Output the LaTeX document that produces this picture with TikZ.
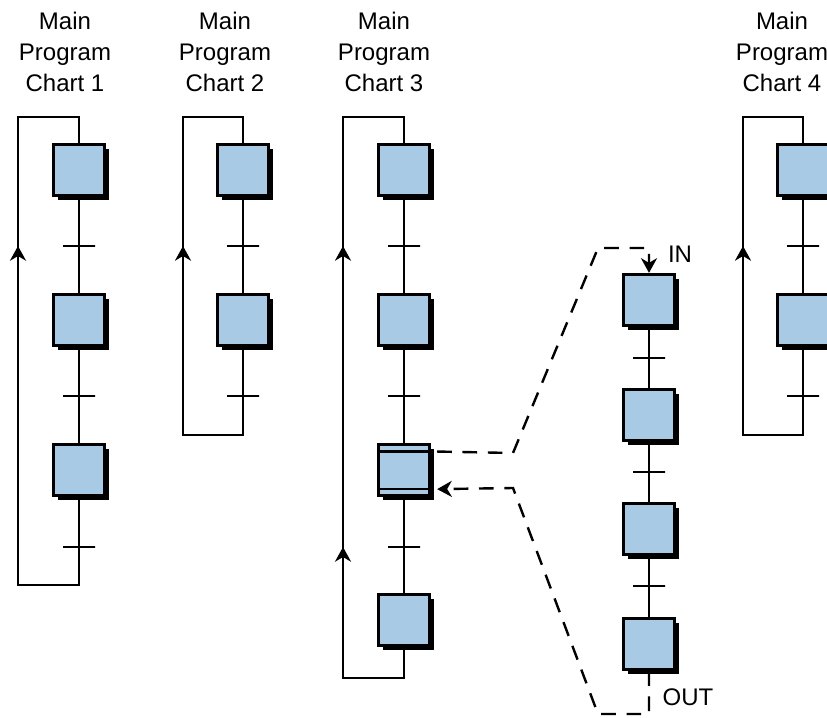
\documentclass[tikz,border=0pt]{standalone}
\usepackage{fontspec}
\setmainfont{Liberation Sans}
\usetikzlibrary{arrows.meta,shadows}
\definecolor{stepblue}{RGB}{168,202,228}
\tikzset{
  stepbox/.style={draw,line width=2.2pt,fill=stepblue,minimum size=38.5pt,inner sep=0pt,
    drop shadow={shadow xshift=3.5pt,shadow yshift=-3.5pt,fill=black,opacity=1}},
  trans/.style={draw,line width=1.8pt,minimum width=24pt,minimum height=0pt,inner sep=0pt},
  title/.style={align=center,font=\fontsize{18}{23}\selectfont},
  uparrow/.style={-{Stealth[length=11pt,width=12pt,inset=3.5pt]}},
  dashline/.style={line width=1.8pt,dash pattern=on 11pt off 8pt}
}
\begin{document}
\begin{tikzpicture}[x=0.75pt,y=-0.75pt,line width=1.9pt,line join=miter]
	\clip (0,0) rectangle (827,717);
	
	% titles
	\node[title] (h1) at (65,52) {Main\\Program\\Chart 1};
	\node[title] (h2) at (225,52) {Main\\Program\\Chart 2};
	\node[title] (h3) at (384,52) {Main\\Program\\Chart 3};
	\node[title] (h4) at (782,52) {Main\\Program\\Chart 4};
	
	% chart 1
	\foreach \i/\y in {1/170,2/320,3/470} \node[stepbox] (c1s\i) at (79,\y) {};
	\foreach \i/\y in {1/246,2/396,3/547} \node[trans] (c1t\i) at (79,\y) {};
	\coordinate (c1b) at (79,585);
	\coordinate (c1l) at (18,117);
	\draw (c1s1) -- (c1t1) -- (c1s2) -- (c1t2) -- (c1s3) -- (c1t3) -- (c1b) -| (c1l) -| (c1s1);
	\draw[uparrow] (c1l |- c1b) -- (c1l |- c1t1);
	
	% chart 2
	\foreach \i/\y in {1/170,2/320} \node[stepbox] (c2s\i) at (243,\y) {};
	\foreach \i/\y in {1/246,2/396} \node[trans] (c2t\i) at (243,\y) {};
	\coordinate (c2b) at (243,435);
	\coordinate (c2l) at (183,117);
	\draw (c2s1) -- (c2t1) -- (c2s2) -- (c2t2) -- (c2b) -| (c2l) -| (c2s1);
	\draw[uparrow] (c2l |- c2b) -- (c2l |- c2t1);
	
	% chart 3
	\foreach \i/\y in {1/170,2/320,3/470,4/620} \node[stepbox] (c3s\i) at (404,\y) {};
	\foreach \i/\y in {1/246,2/396,3/547} \node[trans] (c3t\i) at (404,\y) {};
	\coordinate (c3b) at (404,678);
	\coordinate (c3l) at (343,117);
	\draw (c3s1) -- (c3t1) -- (c3s2) -- (c3t2) -- (c3s3) -- (c3t3) -- (c3s4) -- (c3b) -| (c3l) -| (c3s1);
	\draw[uparrow] (c3l |- c3b) -- (c3l |- c3t3);
	\draw[uparrow] (c3l |- c3t3) -- (c3l |- c3t1);
	\draw ([yshift=-6.5pt]c3s3.north west) -- ([yshift=-6.5pt]c3s3.north east);
	\draw ([yshift=6pt]c3s3.south west) -- ([yshift=6pt]c3s3.south east);
	
	% chart 4
	\foreach \i/\y in {1/170,2/320} \node[stepbox] (c4s\i) at (803,\y) {};
	\foreach \i/\y in {1/246,2/396} \node[trans] (c4t\i) at (803,\y) {};
	\coordinate (c4b) at (803,435);
	\coordinate (c4l) at (743,117);
	\draw (c4s1) -- (c4t1) -- (c4s2) -- (c4t2) -- (c4b) -| (c4l) -| (c4s1);
	\draw[uparrow] (c4l |- c4b) -- (c4l |- c4t1);
	
	% subroutine chart
	\foreach \i/\y in {1/300,2/415,3/529,4/644} \node[stepbox] (ss\i) at (649,\y) {};
	\foreach \i/\y in {1/358,2/472,3/586} \node[trans] (st\i) at (649,\y) {};
	\draw (ss1) -- (st1) -- (ss2) -- (st2) -- (ss3) -- (st3) -- (ss4);
	\node[title] (in) at (680,254) {IN};
	\node[title] (out) at (688,697) {OUT};
	
	% call and return
	\coordinate (d1) at (513,453);
	\coordinate (d2) at (598,248);
	\coordinate (d3) at (598,714);
	\coordinate (d4) at (513,488);
	\draw[dashline,uparrow] ([xshift=4.5pt,yshift=-6.5pt]c3s3.north east) -- (d1) -- (d2) -| (ss1);
	\draw[dashline,uparrow] (ss4) |- (d3) -- (d4) -- ([xshift=4.5pt,yshift=6pt]c3s3.south east);
\end{tikzpicture}
\end{document}
